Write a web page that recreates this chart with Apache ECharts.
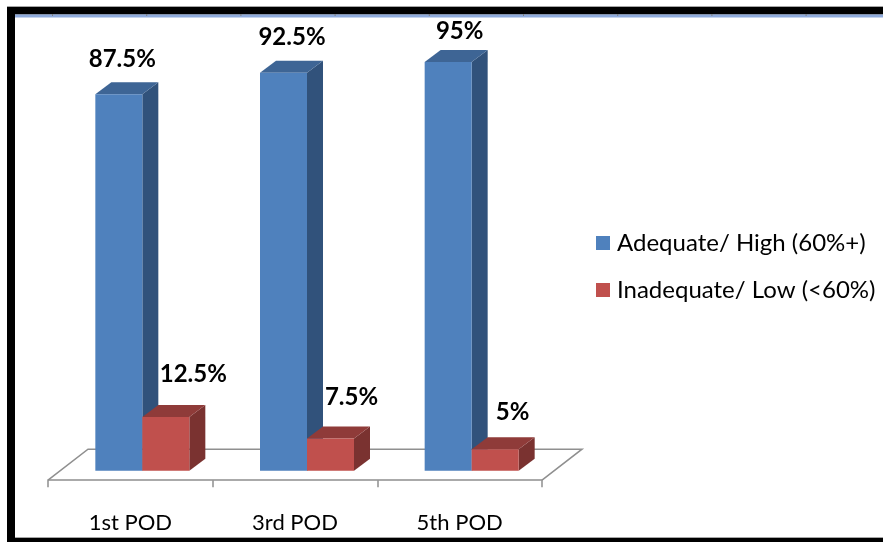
<!DOCTYPE html>
<html>
<head>
<meta charset="utf-8">
<style>
    html, body { margin: 0; padding: 0; background: #fff; }
    #chart { width: 883px; height: 542px; }
</style>
<script src="https://cdn.jsdelivr.net/npm/echarts@6/dist/echarts.min.js"></script>
</head>
<body>
<div id="chart"></div>
<script>
const categories = ['1st POD', '3rd POD', '5th POD']
const adequateValues = [87.5, 92.5, 95]
const inadequateValues = [12.5, 7.5, 5]
const seriesNames = ['Adequate/ High (60%+)', 'Inadequate/ Low (<60%)']

const FONT = 'Lato, "Open Sans", sans-serif'
const DEPTH_X = 16
const DEPTH_Y = 12
const BAR_WIDTH = 47
const BAR_SHIFT = 12
const FLOOR_DROP = 9.5

// data labels sit by hand in the source chart, so each keeps its own nudge from the bar top
const adequateNudge = [[3.5, -35], [8.5, -35], [11.5, -31]]
const inadequateNudge = [[27.5, -43], [21, -41], [17.5, -37]]

function prism(api, side, colors, nudge) {
    const index = api.value(0)
    const top = api.coord([index, api.value(1)])
    const base = api.coord([index, 0])
    const x0 = base[0] + BAR_SHIFT + (side === 0 ? -BAR_WIDTH : 0)
    const x1 = x0 + BAR_WIDTH
    return {
        type: 'group',
        children: [
            {
                type: 'polygon',
                shape: { points: [[x1, top[1]], [x1 + DEPTH_X, top[1] - DEPTH_Y], [x1 + DEPTH_X, base[1] - DEPTH_Y], [x1, base[1]]] },
                style: { fill: colors.side }
            },
            {
                type: 'polygon',
                shape: { points: [[x0, top[1]], [x0 + DEPTH_X, top[1] - DEPTH_Y], [x1 + DEPTH_X, top[1] - DEPTH_Y], [x1, top[1]]] },
                style: { fill: colors.top }
            },
            {
                type: 'rect',
                shape: { x: x0, y: top[1], width: BAR_WIDTH, height: base[1] - top[1] },
                style: { fill: colors.front }
            },
            {
                type: 'text',
                style: {
                    x: (x0 + x1) / 2 + nudge[index][0],
                    y: top[1] + nudge[index][1],
                    text: api.value(1) + '%',
                    align: 'center',
                    verticalAlign: 'middle',
                    font: 'bold 24px ' + FONT,
                    fill: '#000'
                }
            }
        ]
    }
}

function floor(params, api) {
    const box = params.coordSys
    const front = box.y + box.height + FLOOR_DROP
    const back = front - 31
    return {
        type: 'polyline',
        shape: {
            points: [
                [box.x, front],
                [box.x + 40, back],
                [box.x + box.width + 40, back],
                [box.x + box.width, front]
            ]
        },
        style: { stroke: '#8f8f8f', lineWidth: 1.5, fill: null }
    }
}

const blue = { front: '#4f81bd', top: '#3e6595', side: '#31527b' }
const red = { front: '#c0504d', top: '#8f3b39', side: '#7a3230' }

const frameTicks = []
for (let x = 52; x < 883; x += 94.2) {
    frameTicks.push({
        type: 'rect',
        shape: { x: x, y: 14, width: 1, height: 2 },
        style: { fill: '#7f7f7f' }
    })
}

const chart = echarts.init(document.getElementById('chart'), null, { renderer: 'canvas' })
chart.setOption({
    animation: false,
    backgroundColor: '#fff',
    grid: { left: 48, width: 494, top: 40.4, height: 430.3 },
    legend: {
        data: seriesNames,
        orient: 'vertical',
        left: 596,
        top: 228,
        icon: 'rect',
        itemWidth: 14,
        itemHeight: 14,
        itemGap: 17,
        textStyle: { fontFamily: FONT, fontSize: 24, color: '#000', lineHeight: 30, padding: [0, 0, 0, 2] },
        padding: 0
    },
    xAxis: {
        type: 'category',
        data: categories,
        offset: FLOOR_DROP,
        axisLine: { onZero: false, lineStyle: { color: '#8f8f8f', width: 1.5 } },
        axisTick: { show: true, alignWithLabel: false, length: 7, lineStyle: { color: '#8f8f8f', width: 1.5 } },
        axisLabel: { margin: 32, fontFamily: FONT, fontSize: 22, color: '#000' }
    },
    yAxis: { type: 'value', min: 0, max: 100, show: false },
    series: [
        {
            name: 'floor',
            type: 'custom',
            silent: true,
            data: [[0, 0]],
            encode: { x: 0, y: 1 },
            renderItem: floor
        },
        {
            name: seriesNames[0],
            type: 'custom',
            itemStyle: { color: blue.front },
            encode: { x: 0, y: 1 },
            data: adequateValues.map((v, i) => [i, v]),
            renderItem: (params, api) => prism(api, 0, blue, adequateNudge)
        },
        {
            name: seriesNames[1],
            type: 'custom',
            itemStyle: { color: red.front },
            encode: { x: 0, y: 1 },
            data: inadequateValues.map((v, i) => [i, v]),
            renderItem: (params, api) => prism(api, 1, red, inadequateNudge)
        }
    ],
    graphic: [
        { type: 'rect', shape: { x: 7, y: 6, width: 876, height: 1 }, style: { fill: '#a6a6a6' } },
        { type: 'rect', shape: { x: 7, y: 7, width: 876, height: 7.5 }, style: { fill: '#000' } },
        { type: 'rect', shape: { x: 15, y: 14.5, width: 868, height: 3 }, style: { fill: '#8eaadb' } },
        { type: 'rect', shape: { x: 7, y: 7, width: 8, height: 535 }, style: { fill: '#000' } },
        { type: 'rect', shape: { x: 15, y: 537, width: 868, height: 1 }, style: { fill: '#a6a6a6' } },
        { type: 'rect', shape: { x: 7, y: 538, width: 876, height: 4 }, style: { fill: '#000' } },
        ...frameTicks
    ]
})
window.addEventListener('resize', () => chart.resize())
</script>
</body>
</html>
